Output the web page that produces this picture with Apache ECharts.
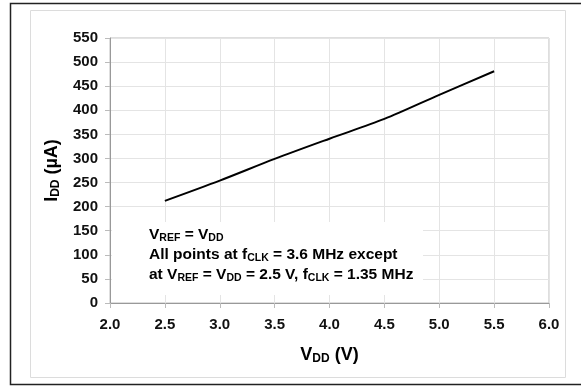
<!DOCTYPE html>
<html><head><meta charset="utf-8">
<script src="https://cdn.jsdelivr.net/npm/echarts@6/dist/echarts.min.js"></script>
<style>html,body{margin:0;padding:0;background:#fff}#c{width:581px;height:387px}</style>
</head><body><div id="c"></div>
<script>
const vdd = [2.5, 3.0, 3.5, 4.0, 4.5, 5.0, 5.5];
const idd = [212, 254, 299, 341, 382, 432, 481];
const xTicks = [2.0, 6.0, 0.5];
const yTicks = [0, 550, 50];
const FONT = "'Liberation Sans', Arial, sans-serif";

const chart = echarts.init(document.getElementById('c'), null, {renderer: 'canvas'});
const sub = {fontSize: 10.5, fontWeight: 'bold', fontFamily: FONT, color: '#000', padding: [7, 0, 0, 0]};
const big = {fontSize: 15.5, fontWeight: 'bold', fontFamily: FONT, color: '#000', lineHeight: 20};
chart.setOption({
  animation: false,
  grid: {left: 110, right: 32, top: 38, bottom: 84, show: true, borderColor: '#bdbdbd', borderWidth: 1},
  xAxis: {
    type: 'value', min: xTicks[0], max: xTicks[1], interval: xTicks[2],
    axisLine: {show: true, onZero: false, lineStyle: {color: '#999', width: 1}},
    axisTick: {show: true, length: 5, lineStyle: {color: '#bbb'}},
    splitLine: {show: true, lineStyle: {color: '#e4e4e4', width: 1}},
    axisLabel: {formatter: v => v.toFixed(1), fontSize: 15, fontWeight: 'bold', fontFamily: FONT, color: '#111', margin: 14},
    name: '{b|V}{s|DD}{b| (V)}', nameLocation: 'middle', nameGap: 42,
    nameTextStyle: {rich: {b: {fontSize: 18, fontWeight: 'bold', fontFamily: FONT, color: '#000'}, s: {fontSize: 12, fontWeight: 'bold', fontFamily: FONT, color: '#000', padding: [8, 0, 0, 0]}}}
  },
  yAxis: {
    type: 'value', min: yTicks[0], max: yTicks[1], interval: yTicks[2],
    axisLine: {show: true, lineStyle: {color: '#999', width: 1}},
    axisTick: {show: true, length: 5, lineStyle: {color: '#bbb'}},
    splitLine: {show: true, lineStyle: {color: '#e4e4e4', width: 1}},
    axisLabel: {fontSize: 15, fontWeight: 'bold', fontFamily: FONT, color: '#111', margin: 12},
    name: '{b|I}{s|DD}{b| (µA)}', nameLocation: 'middle', nameGap: 48, nameRotate: 90,
    nameTextStyle: {rich: {b: {fontSize: 18, fontWeight: 'bold', fontFamily: FONT, color: '#000'}, s: {fontSize: 12, fontWeight: 'bold', fontFamily: FONT, color: '#000', padding: [8, 0, 0, 0]}}}
  },
  series: [{
    type: 'line', data: vdd.map((v, i) => [v, idd[i]]), smooth: 0.3, symbol: 'none',
    lineStyle: {color: '#000', width: 2}, z: 3
  }],
  graphic: [
    {type: 'rect', shape: {x: 10.5, y: 3.5, width: 575, height: 381}, style: {fill: 'none', stroke: '#222', lineWidth: 1.5}, z: 100},
    {type: 'rect', shape: {x: 30.5, y: 10.5, width: 535, height: 367}, style: {fill: 'none', stroke: '#dcdcdc', lineWidth: 1}, z: 100},
    {type: 'rect', shape: {x: 112, y: 222, width: 311, height: 73}, style: {fill: '#fff'}, z: 50},
    {type: 'text', x: 149, y: 225, z: 51, style: {
      text: '{b|V}{s|REF}{b| = V}{s|DD}\n{b|All points at f}{s|CLK}{b| = 3.6 MHz except}\n{b|at V}{s|REF}{b| = V}{s|DD}{b| = 2.5 V, f}{s|CLK}{b| = 1.35 MHz}',
      rich: {b: big, s: sub}
    }}
  ]
});
</script></body></html>
